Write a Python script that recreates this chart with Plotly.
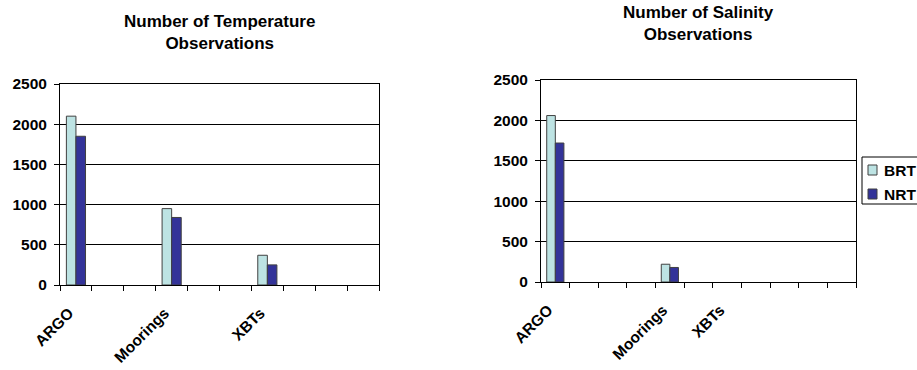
import plotly.graph_objects as go

# Temperature panel
temp_categories = ["ARGO", "", "", "Moorings", "", "", "XBTs", "", "", ""]
temp_brt = [2100, None, None, 950, None, None, 370, None, None, None]
temp_nrt = [1850, None, None, 840, None, None, 250, None, None, None]

# Salinity panel
sal_categories = ["ARGO", "", "", "", "Moorings", "", "XBTs", "", "", "", ""]
sal_brt = [2060, None, None, None, 220, None, None, None, None, None, None]
sal_nrt = [1720, None, None, None, 180, None, None, None, None, None, None]

series_names = ["BRT", "NRT"]
y_ticks = [0, 500, 1000, 1500, 2000, 2500]

W, H = 917, 370
BRT_COLOR = "#BDE3E3"
NRT_COLOR = "#333399"
COLORS = [BRT_COLOR, NRT_COLOR]
FONT = "Liberation Sans, Arial, sans-serif"
TICK_SIZE = 15.5
TITLE_SIZE = 17

fig = go.Figure()

def add_panel(cats, brt, nrt, xa, ya):
    xs = list(range(len(cats)))
    for name, vals, col in zip(series_names, [brt, nrt], COLORS):
        fig.add_trace(go.Bar(x=xs, y=vals, name=name,
                             marker=dict(color=col, line=dict(color="#404040", width=1)),
                             xaxis=xa, yaxis=ya, showlegend=False))

add_panel(temp_categories, temp_brt, temp_nrt, "x", "y")
add_panel(sal_categories, sal_brt, sal_nrt, "x2", "y2")

def xaxis_cfg(cats, domain, anchor):
    idx = [i for i, c in enumerate(cats) if c]
    return dict(
        domain=domain, anchor=anchor,
        range=[-0.5, len(cats) - 0.5],
        tickmode="array", tickvals=idx, ticktext=["<b>%s</b>" % cats[i] for i in idx],
        ticks="", tickangle=-45, ticklabelstandoff=12, ticklabelshift=-7,
        tickfont=dict(family=FONT, size=TICK_SIZE, color="black"),
        showgrid=False, zeroline=False,
        showline=True, linecolor="black", linewidth=1, mirror=True,
        minor=dict(ticks="outside", ticklen=5, tickcolor="black", tickwidth=1,
                   tickmode="linear", tick0=-0.5, dtick=1, showgrid=False),
        fixedrange=True,
    )

def yaxis_cfg(domain, anchor):
    return dict(
        domain=domain, anchor=anchor,
        range=[0, 2500], tickmode="array", tickvals=y_ticks,
        ticktext=["<b>%d</b>" % v for v in y_ticks],
        ticks="outside", ticklen=5, tickcolor="black", ticklabelstandoff=4,
        tickfont=dict(family=FONT, size=TICK_SIZE, color="black"),
        showgrid=True, gridcolor="black", gridwidth=1,
        zeroline=False,
        showline=True, linecolor="black", linewidth=1, mirror=True,
        fixedrange=True,
    )

fig.update_layout(
    width=W, height=H,
    margin=dict(l=0, r=0, t=0, b=0, autoexpand=False),
    paper_bgcolor="white", plot_bgcolor="white",
    barmode="group", bargap=0.4, bargroupgap=0,
    font=dict(family=FONT, color="black"),
    xaxis=xaxis_cfg(temp_categories, [60 / W, 379 / W], "y"),
    yaxis=yaxis_cfg([1 - 285 / H, 1 - 84 / H], "x"),
    xaxis2=xaxis_cfg(sal_categories, [541 / W, 856 / W], "y2"),
    yaxis2=yaxis_cfg([1 - 282 / H, 1 - 80 / H], "x2"),
    showlegend=False,
)

# Legend (box runs past the right edge, as in the reference)
def px(x):
    return x / W

def py(y):
    return 1 - y / H

fig.add_shape(type="rect", xref="paper", yref="paper",
              x0=px(862), x1=px(930), y0=py(204), y1=py(157),
              line=dict(color="black", width=1), fillcolor="white", layer="above")
for i, (name, col) in enumerate(zip(series_names, COLORS)):
    yc = 170 + 24 * i
    fig.add_shape(type="rect", xref="paper", yref="paper",
                  x0=px(868), x1=px(877), y0=py(yc + 5), y1=py(yc - 5),
                  line=dict(color="#404040", width=1), fillcolor=col, layer="above")
    fig.add_annotation(text="<b>%s</b>" % name, xref="paper", yref="paper",
                       x=px(882), y=py(yc), xanchor="left", yanchor="middle", showarrow=False,
                       font=dict(family=FONT, size=TICK_SIZE, color="black"))

fig.add_annotation(text="<b>Number of Temperature<br>Observations</b>", xref="paper", yref="paper",
                   x=(60 + 379) / 2 / W, y=1 - 10 / H, xanchor="center", yanchor="top", showarrow=False,
                   font=dict(family=FONT, size=TITLE_SIZE, color="black"))
fig.add_annotation(text="<b>Number of Salinity<br>Observations</b>", xref="paper", yref="paper",
                   x=(541 + 856) / 2 / W, y=1 - 1 / H, xanchor="center", yanchor="top", showarrow=False,
                   font=dict(family=FONT, size=TITLE_SIZE, color="black"))

fig.write_html("out.html")
